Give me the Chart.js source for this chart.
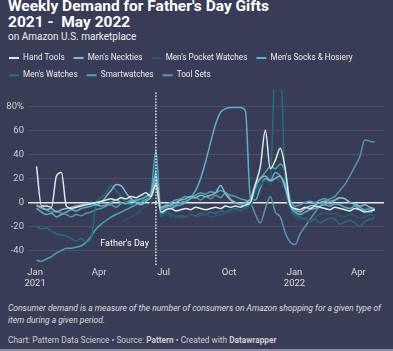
<!DOCTYPE html>
<html>
<head>
<meta charset="utf-8">
<script src="https://cdn.jsdelivr.net/npm/chart.js@4/dist/chart.umd.min.js"></script>
<style>
  html, body { margin: 0; padding: 0; }
  body { width: 393px; height: 351px; background: #393c56; font-family: Roboto, sans-serif; color: #fff; position: relative; overflow: hidden; }
  .title { position: absolute; left: 8px; top: -2px; font-size: 15.5px; font-weight: 700; line-height: 16px; white-space: nowrap; }
  .subtitle { position: absolute; left: 8px; top: 31px; font-size: 10px; color: #eee; white-space: nowrap; }
  .chart_box { position: absolute; left: 0; top: 45px; width: 393px; height: 250px; }
  .notes { position: absolute; left: 8px; top: 303px; font-size: 8.5px; font-style: italic; line-height: 11.5px; color: #ddd; white-space: nowrap; }
  .credit { position: absolute; left: 8px; top: 335px; font-size: 8.3px; color: #ccc; white-space: nowrap; }
  .bottom_line { position: absolute; left: 0; bottom: 0; width: 393px; height: 2px; background: #8a8fa6; }
</style>
</head>
<body>
<div class="title">Weekly Demand for Father's Day Gifts<br>2021 -&nbsp; May 2022</div>
<div class="subtitle">on Amazon U.S. marketplace</div>
<div class="chart_box"><canvas id="chart" width="393" height="250"></canvas></div>
<div class="notes">Consumer demand is a measure of the number of consumers on Amazon shopping for a given type of<br>item during a given period.</div>
<div class="credit">Chart: Pattern Data Science • Source: <b>Pattern</b> • Created with <b>Datawrapper</b></div>
<div class="bottom_line"></div>
<script>
// weeks, as days after 1 Jan 2021 (first week starts 3 Jan 2021)
const week_days = Array.from({length: 69}, (_, i) => 2 + 7 * i)
const tick_days = [0, 90, 181, 273, 365, 455]
const tick_labels = [['Jan', '2021'], 'Apr', 'Jul', 'Oct', ['Jan', '2022'], 'Apr']
const y_ticks = [-40, -20, 0, 20, 40, 60, 80]
const fathers_day = 170

const series_names = ['Hand Tools', "Men's Neckties", "Men's Pocket Watches", "Men's Socks & Hosiery", "Men's Watches", 'Smartwatches', 'Tool Sets']

const hand_tools = [30, -3, -3, -4, 22, 25, -3, -5, -4, -3, -2, -1, 0,
  1, 2, 3, 2, 4, 3, 5, 4, 6, 8, 5, 15, -8,
  -6, -5, -7, -6, -5, -6, -4, -5, -6, -5, -4, -5, -3,
  -4, -3, -4, -2, 0, 15, 30, 60, 28, 35, 45, 28, -2,
  -5, -6, -4, -5, -3, -4, -5, -6, -4, -5, -6, -7, -5, -6, -8, -7, -6]

const neckties = [-2, -4, -6, -5, -8, -6, -5, -4, -3, -2, -1, 0, -2,
  0, 5, 10, 15, 14, 8, 3, 0, -2, 1, 5, 22, -4,
  -3, -2, 0, 2, 3, 5, 4, 6, 5, 6, 8, 14, 7,
  2, 0, -1, 0, 3, 15, 20, 22, 18, 20, 22, 12, -2,
  -6, -8, -5, -3, -2, 0, 1, -1, 2, 4, 3, 0, -1, -3, -2, -4, -5]

const pocket_watches = [null, null, null, null, null, null, null, null, null, null, null, null, null,
  null, null, null, null, -16, -14, -12, -10, -6, -3, 0, 12, -10,
  -10, -12, -11, -13, -12, -10, -12, -11, -10, -12, -11, -10, -9,
  -8, -7, -6, -5, -3, 8, 14, 18, 15, 20, 18, 10, -6,
  -12, -14, -13, -15, -12, -10, -8, -10, -9, -11, -12, -10, -11, -13, -12, -10, -12]

const socks = [-5, -8, -10, -9, -12, -10, -8, -6, -7, -5, -4, -3, -2,
  -3, -2, 0, 2, 0, -1, 1, 2, 3, 5, 8, 25, -10,
  -6, -5, -3, -2, 0, 4, 10, 20, 34, 50, 65, 75, 78,
  79, 79, 79, 76, 4, 2, 12, 20, 18, 25, 22, 15, -3,
  -8, -10, -8, -6, -5, -3, -2, -3, -1, -2, -4, -5, -3, -6, -7, -8, -6]

const mens_watches = [-20, -22, -21, -24, -26, -27, -28, -30, -32, -30, -33, -30, 0,
  4, 8, 14, 10, 5, 0, -2, 0, 2, 4, 6, 30, -12,
  -8, -10, -12, -11, -12, -10, -11, -9, -10, -8, -9, -7, -8,
  -6, -5, -7, -4, -2, 10, 15, 20, 18, 115, 115, 15, -5,
  -10, -12, -14, -16, -14, -17, -15, -13, -14, -18, -16, -15, -17, -20, -16, -14, -13]

const smartwatches = [-48, -49, -47, -45, -42, -40, -38, -38, -37, -36, -33, -28, -22,
  -18, -15, -12, -10, -8, -6, -4, -2, 0, 3, 8, 43, -5,
  -2, 0, 2, 3, 5, 4, 6, 8, 7, 9, 8, 10, 8,
  6, 5, 3, 2, 0, 12, 20, 25, 30, 28, 32, 25, 2,
  -3, -2, 0, 1, 0, 2, 3, 1, 2, 4, 3, 0, -2, -4, -6, -5, -6]

const tool_sets = [-3, -5, -6, -8, -7, -9, -10, -12, -10, -11, -9, -8, -6,
  -5, -3, -2, -4, -1, 0, 2, 1, 3, 2, 4, 18, -6,
  -4, -3, -2, 0, 1, 3, 4, 2, 5, 3, 6, 4, 8,
  3, 0, -2, -3, -1, -10, -17, -5, 5, -8, -12, -25, -33,
  -35, -26, -20, -14, -8, -3, 1, 3, 5, 10, 15, 22, 30, 38, 52, 51, 50]

const series_values = [hand_tools, neckties, pocket_watches, socks, mens_watches, smartwatches, tool_sets]
const series_colors = ['#d4efec', '#86b9cc', '#2f5670', '#58b4c4', '#22707e', '#4aa6b5', '#5b95ad']

const datasets = series_names.map((name, k) => ({
  label: name,
  data: series_values[k].map((v, i) => ({x: week_days[i], y: v})),
  borderColor: series_colors[k],
  backgroundColor: series_colors[k],
  borderWidth: 1.5,
  pointRadius: 0,
  cubicInterpolationMode: 'monotone',
  tension: 0.4,
}))

const fathersDayMarker = {
  id: 'fathersDayMarker',
  afterDatasetsDraw(chart) {
    const ctx = chart.ctx
    const x = chart.scales.x.getPixelForValue(fathers_day)
    const area = chart.chartArea
    ctx.save()
    ctx.strokeStyle = 'rgba(255,255,255,0.9)'
    ctx.lineWidth = 1.5
    ctx.setLineDash([1.5, 1.5])
    ctx.beginPath()
    ctx.moveTo(x, area.top + 3)
    ctx.lineTo(x, area.bottom)
    ctx.stroke()
    ctx.setLineDash([])
    ctx.fillStyle = '#ffffff'
    ctx.font = '9px Roboto'
    ctx.textAlign = 'right'
    ctx.textBaseline = 'middle'
    ctx.fillText("Father's Day", x - 7, chart.scales.y.getPixelForValue(-34))
    ctx.restore()
  }
}

new Chart(document.getElementById('chart'), {
  type: 'line',
  data: { datasets: datasets },
  options: {
    responsive: false,
    animation: false,
    layout: { padding: { left: 0, right: 9, top: 0, bottom: 0 } },
    plugins: {
      legend: {
        position: 'top',
        align: 'start',
        labels: {
          color: '#eeeeee',
          font: { family: 'Roboto', size: 8.2 },
          boxWidth: 10,
          boxHeight: 2,
          padding: 9,
          generateLabels(chart) {
            return Chart.defaults.plugins.legend.labels.generateLabels(chart).map(item => {
              item.lineWidth = 0
              return item
            })
          }
        }
      },
      tooltip: { enabled: false }
    },
    scales: {
      x: {
        type: 'linear',
        min: -10,
        max: 491,
        afterBuildTicks: scale => { scale.ticks = tick_days.map(v => ({value: v})) },
        afterFit: scale => { scale.height = 30 },
        ticks: {
          autoSkip: false,
          maxRotation: 0,
          padding: 2,
          color: '#dddddd',
          font: { family: 'Roboto', size: 9.5 },
          callback: value => tick_labels[tick_days.indexOf(value)]
        },
        grid: { display: false, drawTicks: false },
        border: { display: false }
      },
      y: {
        min: -52,
        max: 94,
        z: 1,
        afterBuildTicks: scale => { scale.ticks = y_ticks.map(v => ({value: v})) },
        afterFit: scale => { scale.width = 28 },
        ticks: {
          padding: 4,
          color: '#d0d0d0',
          font: { family: 'Roboto', size: 9.5 },
          callback: value => value === 80 ? '80%' : value
        },
        grid: {
          drawTicks: false,
          color: ctx => ctx.tick && ctx.tick.value === 0 ? '#e8e8e8' : 'rgba(255,255,255,0.1)',
          lineWidth: ctx => ctx.tick && ctx.tick.value === 0 ? 1.5 : 1
        },
        border: { display: false }
      }
    }
  },
  plugins: [fathersDayMarker]
})
</script>
</body>
</html>
